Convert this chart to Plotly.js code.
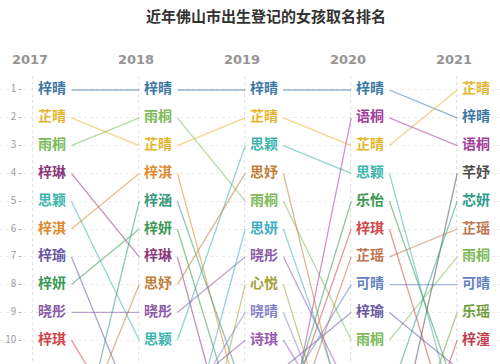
<!DOCTYPE html>
<html>
<head>
<meta charset="utf-8">
<script src="https://cdn.plot.ly/plotly-3.0.1.min.js"></script>
<style>html,body{margin:0;padding:0;background:#fff;}#chart{width:500px;height:364px;}</style>
</head>
<body>
<div id="chart"></div>
<script>
// ---- data ----
const years = ['2017', '2018', '2019', '2020', '2021'];
const top2017 = ['梓晴', '芷晴', '雨桐', '梓琳', '思颖', '梓淇', '梓瑜', '梓妍', '晓彤', '梓琪'];
const top2018 = ['梓晴', '雨桐', '芷晴', '梓淇', '梓涵', '梓妍', '梓琳', '思妤', '晓彤', '思颖'];
const top2019 = ['梓晴', '芷晴', '思颖', '思妤', '雨桐', '思妍', '晓彤', '心悦', '晓晴', '诗琪'];
const top2020 = ['梓晴', '语桐', '芷晴', '思颖', '乐怡', '梓琪', '芷瑶', '可晴', '梓瑜', '雨桐'];
const top2021 = ['芷晴', '梓晴', '语桐', '芊妤', '芯妍', '芷瑶', '雨桐', '可晴', '乐瑶', '梓潼'];
const rankLabels = ['1', '2', '3', '4', '5', '6', '7', '8', '9', '10'];
// estimated ranks below the top 10 (lines run off the bottom)
const outName = ['梓涵', '思妤', '梓瑜', '梓琪', '思妍', '心悦', '晓晴', '诗琪',
  '梓淇', '梓涵', '梓妍', '梓琳', '语桐', '乐怡', '梓琪', '芷瑶', '可晴', '梓瑜',
  '思妤', '思妍', '晓彤', '心悦', '晓晴', '诗琪', '芊妤', '芯妍', '乐瑶', '梓潼',
  '思颖', '乐怡', '梓琪', '梓瑜'];
const outYear = ['2017', '2017', '2018', '2018', '2018', '2018', '2018', '2018',
  '2019', '2019', '2019', '2019', '2019', '2019', '2019', '2019', '2019', '2019',
  '2020', '2020', '2020', '2020', '2020', '2020', '2020', '2020', '2020', '2020',
  '2021', '2021', '2021', '2021'];
const outRank = [15, 14, 13, 14, 15, 18, 13, 12,
  13, 12, 14, 16, 14, 13, 13, 14, 12, 11,
  14, 13, 12, 16, 15, 14, 15, 12, 16, 17,
  13, 12, 14, 11];

// ---- styling ----
const nameColor = {
  '梓晴': '#3b78a6', '芷晴': '#e6b52e', '雨桐': '#7dbb5b', '梓琳': '#8b3a7e', '思颖': '#3cb5ad',
  '梓淇': '#e0892e', '梓瑜': '#6b58a3', '梓妍': '#3a9a52', '晓彤': '#8b5ca8', '梓琪': '#d2464b',
  '梓涵': '#35997a', '思妤': '#c0803c', '思妍': '#3fb0c6', '心悦': '#a8a03a', '晓晴': '#8a84c8',
  '诗琪': '#9858b0', '语桐': '#a340a0', '乐怡': '#3a9a52', '芷瑶': '#c07450', '可晴': '#6383c0',
  '芊妤': '#505050', '芯妍': '#2e9e8a', '乐瑶': '#6f9c3e', '梓潼': '#c2404e'
};
const tops = [top2017, top2018, top2019, top2020, top2021];
const FONT = '"Noto Sans CJK SC", "Noto Sans", sans-serif';
const startOff = 0.315, endOff = 0.955;

// rank lookup
const rank = {};
tops.forEach((list, yi) => list.forEach((n, k) => { (rank[n] = rank[n] || {})[yi] = k + 1; }));
outName.forEach((n, k) => { (rank[n] = rank[n] || {})[years.indexOf(outYear[k])] = outRank[k]; });

const traces = [];
// connecting lines
Object.keys(rank).forEach(n => {
  for (let yi = 0; yi < years.length - 1; yi++) {
    const a = rank[n][yi], b = rank[n][yi + 1];
    if (a === undefined || b === undefined) continue;
    if (a > 10 && b > 10) continue;
    traces.push({
      type: 'scatter', mode: 'lines', hoverinfo: 'skip', showlegend: false,
      x: [yi + startOff, yi + endOff], y: [a, b],
      line: {color: nameColor[n], width: 1.3}, opacity: 0.55, cliponaxis: true
    });
  }
});
// names
tops.forEach((list, yi) => {
  traces.push({
    type: 'scatter', mode: 'text', hoverinfo: 'skip', showlegend: false,
    x: list.map(() => yi), y: list.map((_, k) => k + 1),
    text: list.map(n => '<b>' + n + '</b>'), textposition: 'middle right',
    textfont: {family: FONT, size: 14, color: list.map(n => nameColor[n])},
    cliponaxis: false
  });
});
// rank numbers
traces.push({
  type: 'scatter', mode: 'text', hoverinfo: 'skip', showlegend: false,
  x: rankLabels.map(() => -0.15), y: rankLabels.map(r => Number(r)),
  text: rankLabels.map(r => r + ' -'), textposition: 'middle left',
  textfont: {family: FONT, size: 10, color: '#a0a0a0'}, cliponaxis: false
});
// year headers
traces.push({
  type: 'scatter', mode: 'text', hoverinfo: 'skip', showlegend: false,
  x: years.map((_, i) => i - 0.075), y: years.map(() => -0.05),
  text: years.map(y => '<b>' + y + '</b>'), textposition: 'middle center',
  textfont: {family: '"DejaVu Sans", sans-serif', size: 13, color: '#959595'}, cliponaxis: false
});

const shapes = years.map((_, i) => ({
  type: 'line', xref: 'x', yref: 'y', x0: i - 0.05, x1: i - 0.05, y0: 0.5, y1: 11,
  line: {color: '#dcdcdc', width: 1, dash: 'dot'}, layer: 'below'
}));

const layout = {
  width: 500, height: 364,
  margin: {l: 0, r: 0, t: 0, b: 0},
  paper_bgcolor: '#ffffff', plot_bgcolor: '#ffffff',
  title: {text: '<b>近年佛山市出生登记的女孩取名排名</b>', x: 0.532, xanchor: 'center',
    y: 0.953, yanchor: 'middle', yref: 'container',
    font: {family: FONT, size: 15, color: '#333333'}},
  xaxis: {range: [-0.3585, 4.3585], visible: false, fixedrange: true},
  yaxis: {range: [10.856, -2.237], showgrid: true, griddash: 'dot', gridcolor: '#ececec',
    tickvals: [1, 2, 3, 4, 5, 6, 7, 8, 9, 10], showticklabels: false, zeroline: false,
    showline: false, ticks: '', fixedrange: true},
  shapes: shapes
};
Plotly.newPlot('chart', traces, layout, {displayModeBar: false, staticPlot: true});
</script>
</body>
</html>
